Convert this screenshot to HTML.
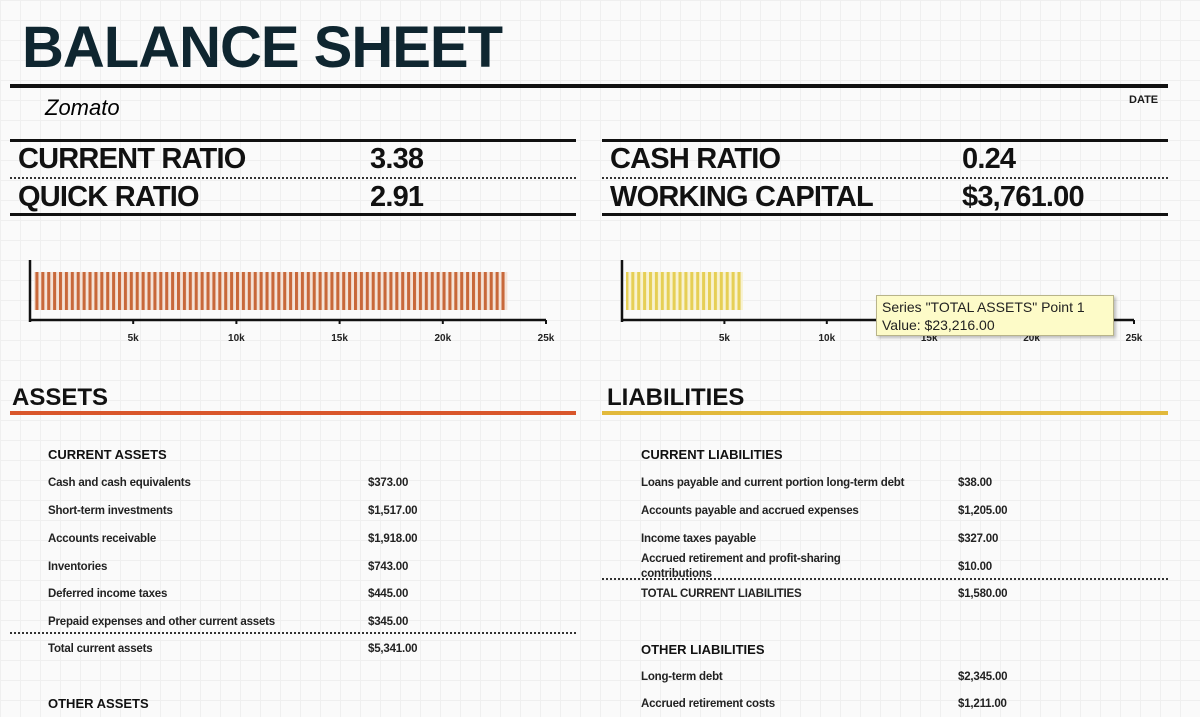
<!DOCTYPE html>
<html><head><meta charset="utf-8">
<style>
body{margin:0;width:1200px;height:717px;overflow:hidden;position:relative;font-family:"Liberation Sans",sans-serif;color:#1b1b1b;
background-color:#fafafa;background-image:linear-gradient(#efefef 1px,transparent 1px),linear-gradient(90deg,#efefef 1px,transparent 1px);background-size:20px 20px;}
.a{position:absolute;white-space:nowrap}
.big{font-weight:bold;font-size:29px;letter-spacing:-0.8px;color:#111}
.row{font-size:11.5px;font-weight:bold;color:#222;letter-spacing:-0.2px}
.hd{font-size:13px;font-weight:bold;color:#111}
.line{position:absolute;background:#111}
.dot{position:absolute;border-top:2px dotted #333;height:0}
</style></head><body>
<div class="a" style="left:22px;top:14px;font-size:58px;font-weight:bold;color:#0f2630;letter-spacing:-1px">BALANCE SHEET</div>
<div class="line" style="left:10px;top:84px;width:1158px;height:4px"></div>
<div class="a" style="left:45px;top:95px;font-size:22px;font-style:italic;color:#000">Zomato</div>
<div class="a" style="left:1129px;top:94px;font-size:11px;font-weight:bold">DATE</div>

<div class="line" style="left:10px;top:139px;width:566px;height:3px"></div>
<div class="dot" style="left:10px;top:177px;width:566px"></div>
<div class="line" style="left:10px;top:213px;width:566px;height:3px"></div>
<div class="line" style="left:602px;top:139px;width:566px;height:3px"></div>
<div class="dot" style="left:602px;top:177px;width:566px"></div>
<div class="line" style="left:602px;top:213px;width:566px;height:3px"></div>
<div class="a big" style="left:18px;top:143px">CURRENT RATIO</div>
<div class="a big" style="left:370px;top:143px">3.38</div>
<div class="a big" style="left:18px;top:181px">QUICK RATIO</div>
<div class="a big" style="left:370px;top:181px">2.91</div>
<div class="a big" style="left:610px;top:143px">CASH RATIO</div>
<div class="a big" style="left:962px;top:143px">0.24</div>
<div class="a big" style="left:610px;top:181px">WORKING CAPITAL</div>
<div class="a big" style="left:962px;top:181px">$3,761.00</div>

<svg class="a" style="left:0;top:0" width="1200" height="717" id="charts">
<defs>
<pattern id="po" width="5.9" height="10" patternUnits="userSpaceOnUse"><rect width="3.2" height="10" fill="#c8683a"/><rect x="3.2" width="2.7" height="10" fill="#f4e3d8"/></pattern>
<pattern id="py" width="5.9" height="10" patternUnits="userSpaceOnUse"><rect width="3.2" height="10" fill="#e6cf55"/><rect x="3.2" width="2.7" height="10" fill="#f8f2d0"/></pattern>
</defs>
</svg>
<div class="a" style="left:876px;top:295px;width:238px;height:41px;background:#fdfbc8;border:1px solid #b8b48a;box-shadow:2px 2px 3px rgba(0,0,0,.25);font-size:14px;line-height:18px;padding:2px 5px;box-sizing:border-box;color:#222">Series "TOTAL ASSETS" Point 1<br>Value: $23,216.00</div>

<div class="a" style="left:12px;top:384px;font-size:24px;font-weight:bold;color:#111">ASSETS</div>
<div class="line" style="left:10px;top:411px;width:566px;height:4px;background:#d9562b"></div>
<div class="a" style="left:607px;top:384px;font-size:24px;font-weight:bold;color:#111">LIABILITIES</div>
<div class="line" style="left:602px;top:411px;width:566px;height:4px;background:#e2b93b"></div>

<div class="a hd" style="left:48px;top:447px">CURRENT ASSETS</div>
<div class="a row" style="left:48px;top:477px">Cash and cash equivalents</div><div class="a row" style="left:368px;top:477px">$373.00</div>
<div class="a row" style="left:48px;top:505px">Short-term investments</div><div class="a row" style="left:368px;top:505px">$1,517.00</div>
<div class="a row" style="left:48px;top:533px">Accounts receivable</div><div class="a row" style="left:368px;top:533px">$1,918.00</div>
<div class="a row" style="left:48px;top:561px">Inventories</div><div class="a row" style="left:368px;top:561px">$743.00</div>
<div class="a row" style="left:48px;top:588px">Deferred income taxes</div><div class="a row" style="left:368px;top:588px">$445.00</div>
<div class="a row" style="left:48px;top:616px">Prepaid expenses and other current assets</div><div class="a row" style="left:368px;top:616px">$345.00</div>
<div class="dot" style="left:10px;top:632px;width:566px"></div>
<div class="a row" style="left:48px;top:643px">Total current assets</div><div class="a row" style="left:368px;top:643px">$5,341.00</div>
<div class="a hd" style="left:48px;top:696px">OTHER ASSETS</div>

<div class="a hd" style="left:641px;top:447px">CURRENT LIABILITIES</div>
<div class="a row" style="left:641px;top:477px">Loans payable and current portion long-term debt</div><div class="a row" style="left:958px;top:477px">$38.00</div>
<div class="a row" style="left:641px;top:505px">Accounts payable and accrued expenses</div><div class="a row" style="left:958px;top:505px">$1,205.00</div>
<div class="a row" style="left:641px;top:533px">Income taxes payable</div><div class="a row" style="left:958px;top:533px">$327.00</div>
<div class="a row" style="left:641px;top:552px;line-height:15px">Accrued retirement and profit-sharing<br>contributions</div><div class="a row" style="left:958px;top:561px">$10.00</div>
<div class="dot" style="left:602px;top:578px;width:566px"></div>
<div class="a row" style="left:641px;top:588px">TOTAL CURRENT LIABILITIES</div><div class="a row" style="left:958px;top:588px">$1,580.00</div>
<div class="a hd" style="left:641px;top:642px">OTHER LIABILITIES</div>
<div class="a row" style="left:641px;top:671px">Long-term debt</div><div class="a row" style="left:958px;top:671px">$2,345.00</div>
<div class="a row" style="left:641px;top:698px">Accrued retirement costs</div><div class="a row" style="left:958px;top:698px">$1,211.00</div>

<script>
const assetValues=[23216];
const liabilityValues=[6000];
const tickValues=[5000,10000,15000,20000,25000];
const tickLabels=["5k","10k","15k","20k","25k"];
const NS="http://www.w3.org/2000/svg";
const svg=document.getElementById('charts');
function mk(t,a){const e=document.createElementNS(NS,t);for(const k in a)e.setAttribute(k,a[k]);svg.appendChild(e);return e;}
function chart(x0,x1,vals,fill,prefix){
  const sx=v=>x0+(v/25000)*(x1-x0);
  const axisY=320;
  vals.forEach((v,i)=>{
    const r=mk('rect',{x:x0+4,y:272,width:Math.max(0,sx(v)-x0-6),height:38,fill:fill});
    
    
  });
  const ax=mk('line',{x1:x0,y1:axisY,x2:x1,y2:axisY,stroke:'#111','stroke-width':2.5});
  
  
  const ay=mk('line',{x1:x0,y1:260,x2:x0,y2:axisY+2,stroke:'#111','stroke-width':2.5});
  
  
  tickValues.forEach((t,i)=>{
    const tk=mk('line',{x1:sx(t),y1:axisY,x2:sx(t),y2:axisY+4,stroke:'#111','stroke-width':2});
    
    
    const tl=mk('text',{x:sx(t),y:axisY+21,'text-anchor':'middle','font-size':10,'font-weight':'bold','font-family':'Liberation Sans, sans-serif',fill:'#222'});
    tl.textContent=tickLabels[i];
    
    
  });
}
chart(30,546,assetValues,'url(#po)','assets-chart');
chart(622,1134,liabilityValues,'url(#py)','liabilities-chart');
</script>
</body></html>
